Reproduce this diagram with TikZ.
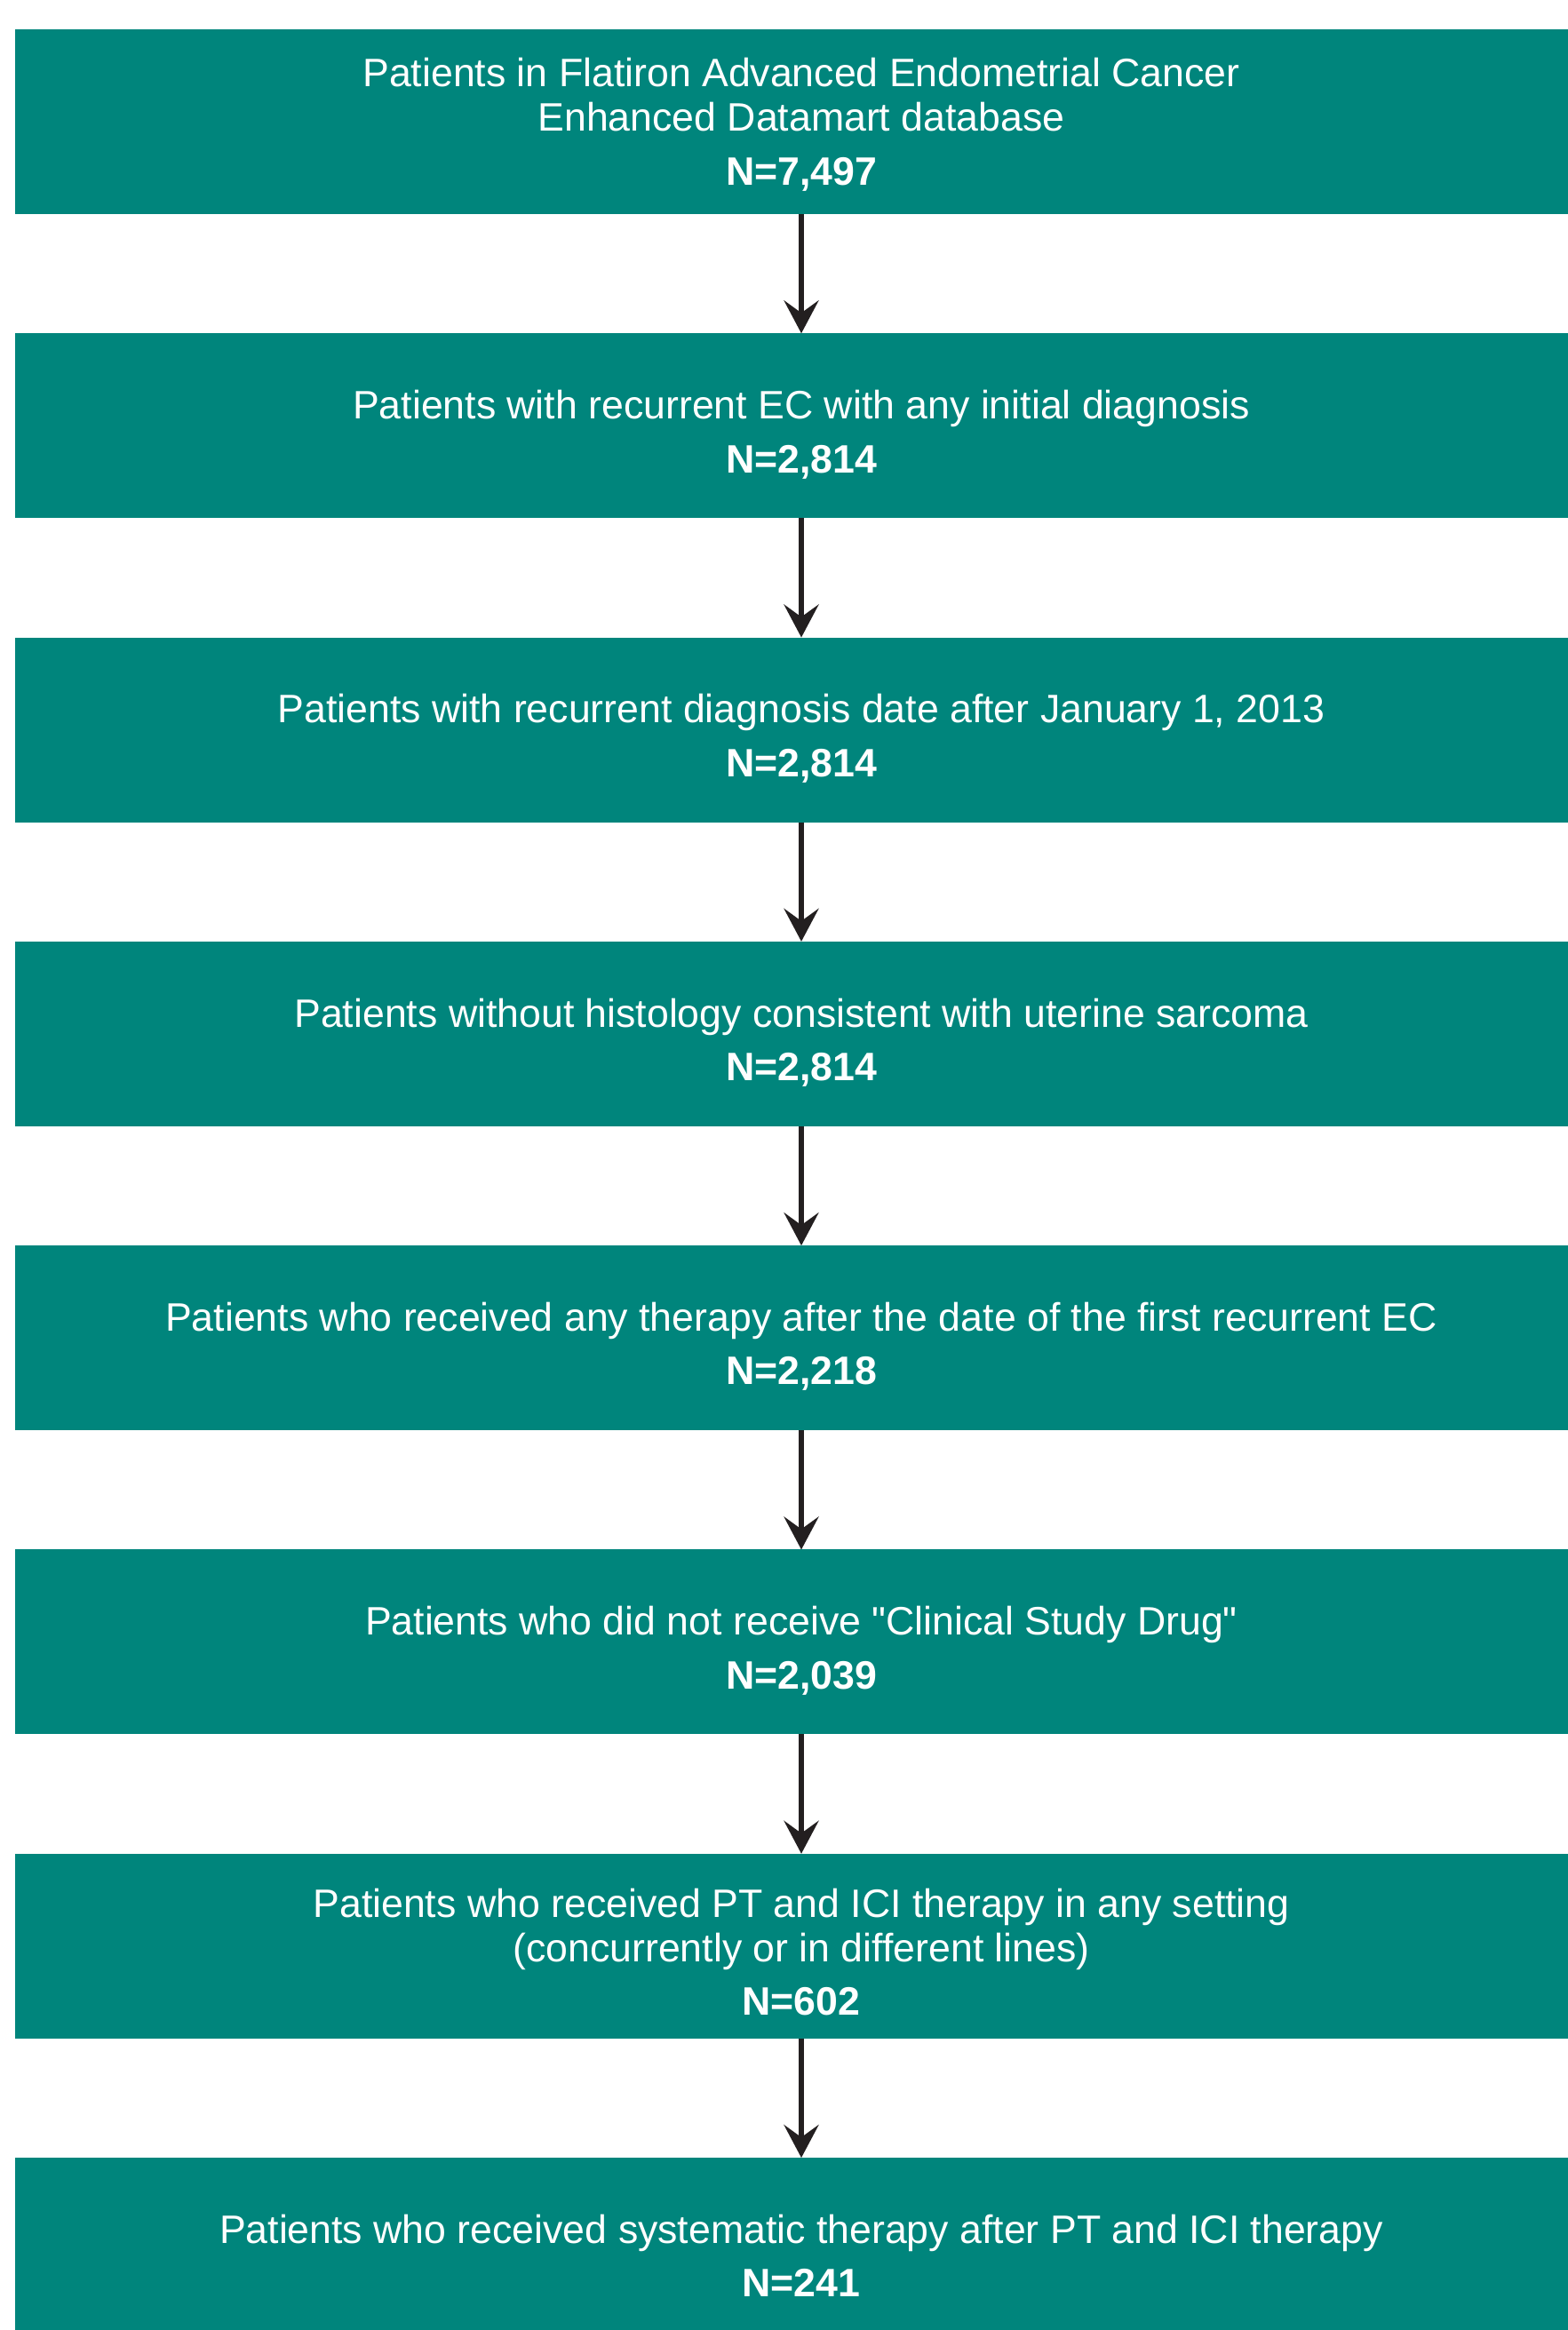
\documentclass[tikz,border=0pt]{standalone}
\usepackage{fontspec}
\setmainfont{Liberation Sans}
\usetikzlibrary{positioning,arrows.meta}
\definecolor{flowteal}{RGB}{0,133,124}
\definecolor{arrowdark}{RGB}{35,31,32}
\newcommand{\padtop}{\rule{0pt}{12.8pt}}
\tikzset{
    stepbox/.style={fill=flowteal, text=white, align=center, inner sep=0pt, outer sep=0pt,
        minimum width=17.7cm, minimum height=2.08cm, text depth=0pt,
        font=\fontsize{12.7pt}{14.2pt}\selectfont},
    flowarrow/.style={draw=arrowdark, line width=1.7pt,
        -{Stealth[length=0.37cm, width=0.39cm, inset=0.14cm]}}
}
\begin{document}
\begin{tikzpicture}
                % Fix the page
                \useasboundingbox (0,0) rectangle (17.65,26.23);

                % Draw boxes
                \node[stepbox] (all) at (9.02,24.86) {Patients in Flatiron Advanced Endometrial Cancer\\
                    Enhanced Datamart database\\[3pt]
                    \textbf{N=7,497}};
                \node[stepbox, below=1.343cm of all] (recur) {\padtop Patients with recurrent EC with any initial diagnosis\\[3pt]
                    \textbf{N=2,814}};
                \node[stepbox, below=1.343cm of recur] (date) {\padtop Patients with recurrent diagnosis date after January 1, 2013\\[3pt]
                    \textbf{N=2,814}};
                \node[stepbox, below=1.343cm of date] (histo) {\padtop Patients without histology consistent with uterine sarcoma\\[3pt]
                    \textbf{N=2,814}};
                \node[stepbox, below=1.343cm of histo] (therapy) {\padtop Patients who received any therapy after the date of the first recurrent EC\\[3pt]
                    \textbf{N=2,218}};
                \node[stepbox, below=1.343cm of therapy] (nodrug) {\padtop Patients who did not receive \textquotedbl Clinical Study Drug\textquotedbl\\[3pt]
                    \textbf{N=2,039}};
                \node[stepbox, below=1.343cm of nodrug] (ptici) {\padtop Patients who received PT and ICI therapy in any setting\\
                    (concurrently or in different lines)\\[3pt]
                    \textbf{N=602}};
                \node[stepbox, below=1.343cm of ptici] (after) {\padtop Patients who received systematic therapy after PT and ICI therapy\\[3pt]
                    \textbf{N=241}};

                % Arrows between boxes
                \draw[flowarrow] (all) -- (recur);
                \draw[flowarrow] (recur) -- (date);
                \draw[flowarrow] (date) -- (histo);
                \draw[flowarrow] (histo) -- (therapy);
                \draw[flowarrow] (therapy) -- (nodrug);
                \draw[flowarrow] (nodrug) -- (ptici);
                \draw[flowarrow] (ptici) -- (after);
\end{tikzpicture}
\end{document}
